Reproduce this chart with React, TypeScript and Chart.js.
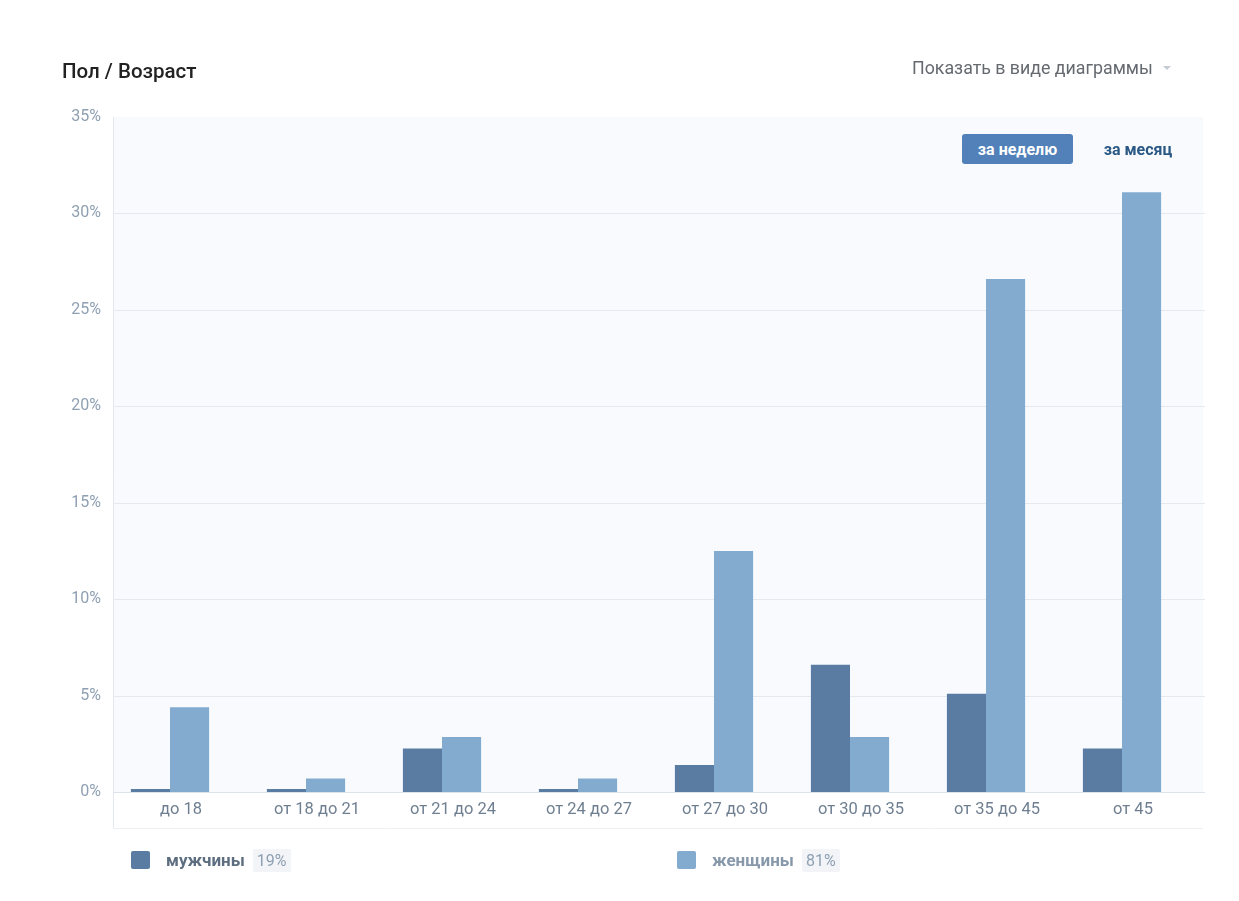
import React, { useEffect, useRef } from "react";
import { Chart, registerables } from "chart.js";

Chart.register(...registerables);

const categories = ["до 18", "от 18 до 21", "от 21 до 24", "от 24 до 27", "от 27 до 30", "от 30 до 35", "от 35 до 45", "от 45"];
const menValues = [0.15, 0.15, 2.25, 0.15, 1.4, 6.6, 5.1, 2.25];
const womenValues = [4.4, 0.7, 2.85, 0.7, 12.5, 2.85, 26.6, 31.1];
const yTicks = [0, 5, 10, 15, 20, 25, 30, 35];
const menLabel = "мужчины";
const womenLabel = "женщины";
const menShare = "19%";
const womenShare = "81%";

const MEN_COLOR = "#5a7ca3";
const WOMEN_COLOR = "#82abcf";
const FONT = "Roboto, 'Open Sans', Arial, sans-serif";

const PLOT_LEFT = 113;
const PLOT_RIGHT = 1203;

const bgPlugin = {
  id: "plotBg",
  beforeDatasetsDraw(chart: any) {
    const { ctx, chartArea, scales } = chart;
    const { top, bottom } = chartArea;
    ctx.save();
    ctx.fillStyle = "#f8fafd";
    ctx.fillRect(PLOT_LEFT, top, PLOT_RIGHT - PLOT_LEFT, bottom - top);
    const ys = scales.y;
    yTicks.forEach((v) => {
      if (v === 35) return;
      const py = Math.round(ys.getPixelForValue(v)) + 0.5;
      ctx.strokeStyle = v === 0 ? "#dde3ea" : "#e4e9ef";
      ctx.lineWidth = 1;
      ctx.beginPath();
      ctx.moveTo(PLOT_LEFT, py);
      ctx.lineTo(PLOT_RIGHT + 2, py);
      ctx.stroke();
    });
    ctx.strokeStyle = "#e3e8ee";
    ctx.beginPath();
    ctx.moveTo(PLOT_LEFT + 0.5, top);
    ctx.lineTo(PLOT_LEFT + 0.5, bottom + 36);
    ctx.stroke();
    ctx.strokeStyle = "#eef1f4";
    ctx.beginPath();
    ctx.moveTo(PLOT_LEFT, bottom + 36.5);
    ctx.lineTo(PLOT_RIGHT, bottom + 36.5);
    ctx.stroke();
    ctx.restore();
  },
};

export default function App() {
  const ref = useRef<HTMLCanvasElement | null>(null);

  useEffect(() => {
    document.body.style.margin = "0";
    const canvas = ref.current;
    if (!canvas) return;
    const chart = new Chart(canvas, {
      type: "bar",
      data: {
        labels: categories,
        datasets: [
          {
            label: menLabel,
            data: menValues,
            backgroundColor: MEN_COLOR,
            categoryPercentage: 0.575,
            barPercentage: 1,
          },
          {
            label: womenLabel,
            data: womenValues,
            backgroundColor: WOMEN_COLOR,
            categoryPercentage: 0.575,
            barPercentage: 1,
          },
        ],
      },
      plugins: [bgPlugin],
      options: {
        animation: false,
        responsive: false,
        maintainAspectRatio: false,
        layout: { padding: { left: 0, top: 117, right: 49, bottom: 73 } },
        plugins: {
          legend: { display: false },
          tooltip: { enabled: false },
        },
        scales: {
          x: {
            grid: { display: false, drawTicks: false },
            border: { display: false },
            ticks: {
              color: "#6f7f91",
              font: { family: FONT, size: 16.5 },
              padding: 8,
              maxRotation: 0,
              labelOffset: 11,
            },
            afterFit(scale: any) {
              scale.height = 36;
            },
          },
          y: {
            min: 0,
            max: 35,
            afterBuildTicks(scale: any) {
              scale.ticks = yTicks.map((v) => ({ value: v }));
            },
            grid: { display: false, drawTicks: false },
            border: { display: false },
            ticks: {
              color: "#8fa0b3",
              font: { family: FONT, size: 16 },
              padding: 1,
              callback: (v: any) => `${v}%`,
            },
            afterFit(scale: any) {
              scale.width = 102;
            },
          },
        },
      },
    });
    return () => chart.destroy();
  }, []);

  const legendItem = (left: number, color: string, label: string, share: string, labelColor: string) => (
    <div style={{ position: "absolute", left, top: 851, height: 18, display: "flex", alignItems: "center", fontFamily: FONT }}>
      <div style={{ width: 19, height: 18, borderRadius: 2, background: color }} />
      <span style={{ marginLeft: 16, fontSize: 17, fontWeight: 700, color: labelColor }}>{label}</span>
      <span style={{ marginLeft: 8, fontSize: 16, color: "#8fa0b3", background: "#f2f4f7", padding: "2px 4px", borderRadius: 2 }}>{share}</span>
    </div>
  );

  return (
    <div style={{ position: "relative", width: 1239, height: 901, background: "#ffffff", overflow: "hidden" }}>
      <canvas ref={ref} width={1239} height={901} style={{ position: "absolute", left: 0, top: 0, width: 1239, height: 901 }} />
      <div style={{ position: "absolute", left: 62, top: 59, fontFamily: FONT, fontSize: 20.5, fontWeight: 500, color: "#222222", lineHeight: "24px" }}>
        Пол / Возраст
      </div>
      <div style={{ position: "absolute", left: 912, top: 57, fontFamily: FONT, fontSize: 17.8, color: "#656a70", display: "flex", alignItems: "center", lineHeight: "22px" }}>
        Показать в виде диаграммы
        <span style={{ marginLeft: 10, display: "inline-block", width: 0, height: 0, borderLeft: "4px solid transparent", borderRight: "4px solid transparent", borderTop: "4px solid #c5ccd3" }} />
      </div>
      <div style={{ position: "absolute", left: 962, top: 134, width: 111, height: 30, background: "#5181b8", borderRadius: 3, color: "#ffffff", fontFamily: FONT, fontSize: 16, fontWeight: 700, display: "flex", alignItems: "center", justifyContent: "center" }}>
        за неделю
      </div>
      <div style={{ position: "absolute", left: 1090, top: 134, width: 96, height: 30, color: "#2a5885", fontFamily: FONT, fontSize: 16, fontWeight: 700, display: "flex", alignItems: "center", justifyContent: "center" }}>
        за месяц
      </div>
      {legendItem(131, MEN_COLOR, menLabel, menShare, "#5d6e80")}
      {legendItem(677, WOMEN_COLOR, womenLabel, womenShare, "#8798ab")}
    </div>
  );
}
